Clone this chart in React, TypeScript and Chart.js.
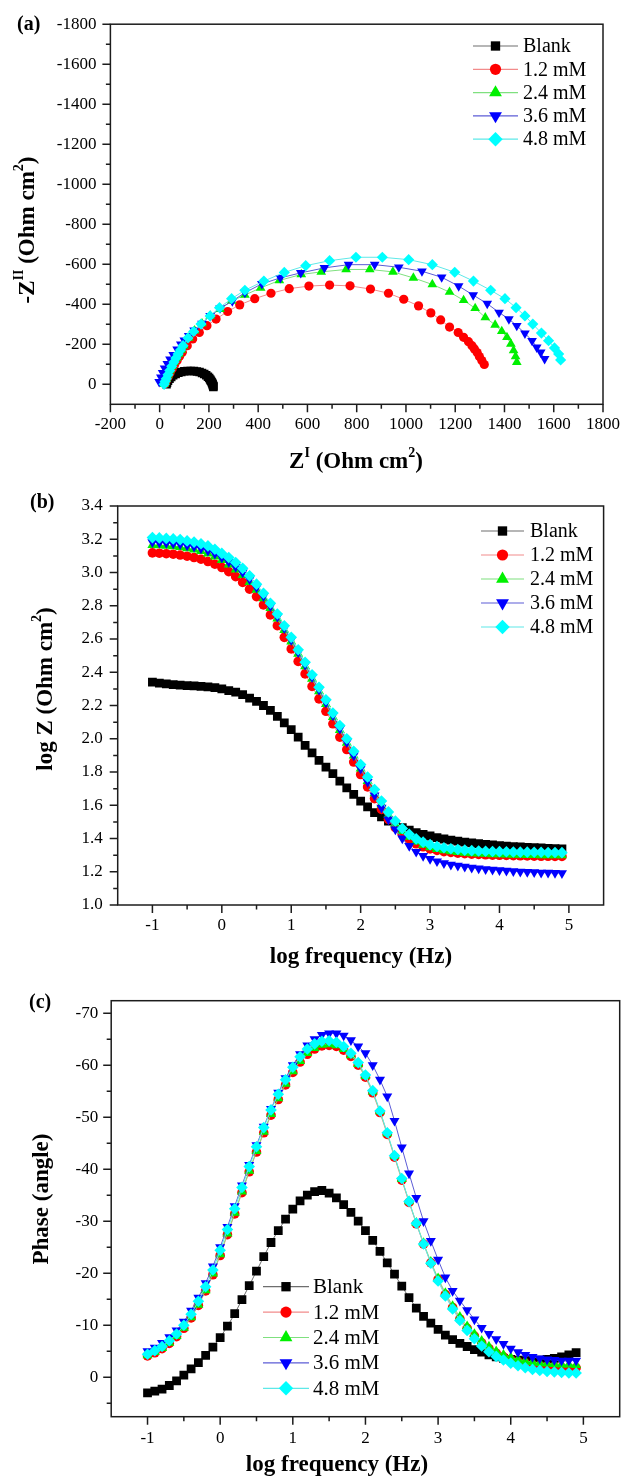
import React, { useEffect, useRef } from 'react';
import { Chart, registerables } from 'chart.js';

Chart.register(...registerables);

// ---------------- DATA ----------------
const SERIES_NAMES = ['Blank', '1.2 mM', '2.4 mM', '3.6 mM', '4.8 mM'];

// (a) Nyquist: Z' and -Z'' (Ohm cm2), values as plotted on the reversed axis
const blankZre = [28, 30, 34, 40, 47, 55, 65, 76, 88, 100, 113, 126, 139, 151, 162, 172, 181, 189, 196, 201, 205, 208, 211, 213, 215, 216, 217, 218, 218];
const blankZim = [0, -8, -18, -28, -37, -45, -52, -58, -62, -65, -66, -67, -66, -64, -61, -56, -51, -45, -38, -31, -24, -18, -12, -7, -2, 3, 7, 10, 13];

const mM12Zre = [22, 27, 34, 42, 51, 61, 71, 81, 92, 112, 134, 161, 192, 229, 276, 325, 386, 452, 526, 606, 690, 773, 856, 929, 991, 1051, 1101, 1141, 1177, 1212, 1234, 1254, 1268, 1278, 1289, 1298, 1308, 1318];
const mM12Zim = [-3, -18, -36, -57, -78, -99, -119, -140, -160, -193, -227, -259, -293, -326, -364, -397, -428, -455, -478, -491, -496, -492, -476, -455, -425, -392, -357, -322, -286, -259, -235, -213, -193, -177, -159, -139, -119, -99];

const mM24Zre = [18, 22, 27, 34, 42, 50, 58, 68, 78, 88, 98, 118, 142, 172, 205, 245, 292, 346, 410, 486, 575, 656, 757, 853, 947, 1030, 1107, 1177, 1234, 1281, 1322, 1362, 1389, 1410, 1426, 1437, 1445, 1450];
const mM24Zim = [0, -14, -28, -48, -69, -90, -111, -131, -152, -172, -193, -232, -268, -304, -342, -375, -416, -446, -482, -519, -549, -562, -574, -574, -562, -532, -499, -461, -420, -380, -334, -297, -265, -235, -202, -169, -139, -111];

const mM36Zre = [-2, 5, 12, 20, 31, 42, 55, 71, 86, 100, 118, 140, 172, 205, 245, 295, 346, 415, 490, 573, 669, 767, 873, 971, 1065, 1145, 1214, 1273, 1330, 1378, 1418, 1450, 1483, 1512, 1531, 1547, 1563];
const mM36Zim = [-12, -35, -58, -80, -103, -125, -147, -175, -200, -220, -243, -270, -304, -342, -380, -416, -458, -502, -532, -557, -582, -598, -598, -585, -565, -535, -491, -446, -403, -359, -326, -293, -255, -218, -185, -160, -127];

const mM48Zre = [18, 22, 27, 34, 41, 49, 58, 66, 75, 85, 95, 115, 138, 168, 205, 243, 292, 346, 423, 506, 593, 690, 797, 904, 1011, 1107, 1198, 1274, 1344, 1402, 1447, 1483, 1515, 1550, 1579, 1603, 1620, 1628];
const mM48Zim = [0, -14, -28, -48, -69, -90, -111, -131, -152, -172, -193, -232, -264, -301, -342, -383, -428, -470, -516, -559, -593, -618, -635, -635, -623, -598, -560, -516, -470, -428, -383, -342, -301, -256, -218, -182, -152, -122];

// (b), (c) Bode: log frequency (Hz)
const freqLog = [-1.0, -0.9, -0.8, -0.7, -0.6, -0.5, -0.4, -0.3, -0.2, -0.1, 0.0, 0.1, 0.2, 0.3, 0.4, 0.5, 0.6, 0.7, 0.8, 0.9, 1.0, 1.1, 1.2, 1.3, 1.4, 1.5, 1.6, 1.7, 1.8, 1.9, 2.0, 2.1, 2.2, 2.3, 2.4, 2.5, 2.6, 2.7, 2.8, 2.9, 3.0, 3.1, 3.2, 3.3, 3.4, 3.5, 3.6, 3.7, 3.8, 3.9, 4.0, 4.1, 4.2, 4.3, 4.4, 4.5, 4.6, 4.7, 4.8, 4.9];

const blankLogZ = [2.340, 2.335, 2.330, 2.325, 2.322, 2.320, 2.318, 2.315, 2.312, 2.307, 2.300, 2.290, 2.280, 2.265, 2.245, 2.225, 2.200, 2.170, 2.135, 2.095, 2.055, 2.010, 1.960, 1.915, 1.870, 1.830, 1.790, 1.745, 1.705, 1.665, 1.625, 1.590, 1.555, 1.530, 1.505, 1.485, 1.465, 1.450, 1.435, 1.425, 1.415, 1.405, 1.397, 1.390, 1.384, 1.378, 1.373, 1.369, 1.365, 1.361, 1.357, 1.354, 1.351, 1.349, 1.347, 1.345, 1.343, 1.341, 1.339, 1.337];
const mM12LogZ = [3.118, 3.116, 3.113, 3.110, 3.105, 3.098, 3.090, 3.080, 3.066, 3.050, 3.030, 3.005, 2.975, 2.940, 2.900, 2.855, 2.805, 2.745, 2.680, 2.610, 2.540, 2.465, 2.390, 2.315, 2.240, 2.165, 2.090, 2.010, 1.935, 1.860, 1.785, 1.710, 1.640, 1.575, 1.515, 1.465, 1.425, 1.392, 1.368, 1.350, 1.337, 1.328, 1.321, 1.316, 1.312, 1.309, 1.306, 1.304, 1.302, 1.300, 1.299, 1.298, 1.297, 1.296, 1.295, 1.294, 1.293, 1.293, 1.292, 1.292];
const mM24LogZ = [3.165, 3.163, 3.160, 3.157, 3.153, 3.146, 3.138, 3.128, 3.114, 3.096, 3.074, 3.048, 3.018, 2.984, 2.943, 2.896, 2.844, 2.786, 2.722, 2.654, 2.584, 2.510, 2.435, 2.360, 2.285, 2.208, 2.130, 2.052, 1.975, 1.898, 1.820, 1.745, 1.672, 1.605, 1.542, 1.490, 1.445, 1.410, 1.382, 1.362, 1.347, 1.336, 1.328, 1.322, 1.318, 1.314, 1.311, 1.309, 1.307, 1.305, 1.304, 1.303, 1.302, 1.301, 1.300, 1.300, 1.299, 1.299, 1.298, 1.298];
const mM36LogZ = [3.182, 3.180, 3.177, 3.174, 3.170, 3.163, 3.155, 3.145, 3.131, 3.113, 3.090, 3.064, 3.034, 3.000, 2.958, 2.910, 2.857, 2.798, 2.734, 2.665, 2.595, 2.520, 2.445, 2.370, 2.295, 2.218, 2.140, 2.060, 1.980, 1.900, 1.820, 1.740, 1.660, 1.585, 1.515, 1.455, 1.400, 1.355, 1.320, 1.295, 1.277, 1.263, 1.252, 1.243, 1.236, 1.230, 1.225, 1.220, 1.216, 1.212, 1.209, 1.206, 1.203, 1.201, 1.199, 1.197, 1.195, 1.194, 1.193, 1.192];
const mM48LogZ = [3.210, 3.208, 3.205, 3.202, 3.198, 3.190, 3.183, 3.173, 3.160, 3.140, 3.115, 3.090, 3.060, 3.025, 2.980, 2.930, 2.875, 2.815, 2.750, 2.680, 2.610, 2.535, 2.460, 2.385, 2.310, 2.235, 2.155, 2.080, 2.000, 1.925, 1.845, 1.770, 1.695, 1.625, 1.560, 1.505, 1.460, 1.425, 1.398, 1.378, 1.363, 1.352, 1.344, 1.338, 1.334, 1.330, 1.327, 1.325, 1.323, 1.322, 1.321, 1.320, 1.319, 1.318, 1.318, 1.317, 1.317, 1.316, 1.316, 1.315];

const blankPhase = [3.0, 2.7, 2.3, 1.6, 0.7, -0.4, -1.6, -2.8, -4.2, -5.8, -7.6, -9.8, -12.2, -14.9, -17.6, -20.4, -23.2, -25.9, -28.2, -30.4, -32.3, -33.9, -35.0, -35.7, -35.9, -35.4, -34.5, -33.2, -31.7, -30.0, -28.2, -26.3, -24.2, -22.0, -19.8, -17.5, -15.3, -13.3, -11.7, -10.4, -9.2, -8.1, -7.2, -6.5, -5.9, -5.3, -4.8, -4.3, -3.9, -3.6, -3.4, -3.3, -3.2, -3.2, -3.3, -3.4, -3.6, -3.9, -4.3, -4.7];
const mM12Phase = [-4.1, -4.7, -5.5, -6.5, -7.8, -9.4, -11.4, -13.8, -16.6, -19.7, -23.4, -27.4, -31.4, -35.5, -39.5, -43.3, -47.0, -50.4, -53.4, -56.2, -58.6, -60.6, -62.1, -63.1, -63.7, -63.8, -63.6, -62.9, -61.7, -60.0, -57.7, -54.7, -50.9, -46.7, -42.3, -37.9, -33.6, -29.5, -25.6, -22.0, -18.8, -15.9, -13.4, -11.2, -9.4, -7.9, -6.6, -5.5, -4.6, -3.9, -3.4, -3.0, -2.7, -2.4, -2.2, -2.1, -2.0, -1.9, -1.8, -1.8];
const mM24Phase = [-4.2, -4.8, -5.6, -6.6, -7.9, -9.5, -11.5, -13.9, -16.7, -19.9, -23.6, -27.6, -31.6, -35.7, -39.7, -43.5, -47.2, -50.6, -53.6, -56.4, -58.8, -60.8, -62.3, -63.3, -63.9, -64.0, -63.8, -63.1, -61.9, -60.2, -57.9, -54.9, -51.1, -46.9, -42.5, -38.1, -33.8, -29.7, -25.8, -22.2, -19.0, -16.2, -13.7, -11.6, -9.8, -8.3, -7.0, -5.9, -5.0, -4.3, -3.8, -3.4, -3.1, -2.9, -2.7, -2.6, -2.5, -2.4, -2.4, -2.3];
const mM36Phase = [-5.0, -5.7, -6.6, -7.7, -9.0, -10.7, -12.8, -15.3, -18.1, -21.3, -25.0, -28.9, -32.9, -36.9, -40.8, -44.6, -48.2, -51.6, -54.7, -57.5, -60.0, -62.1, -63.8, -65.0, -65.8, -66.1, -66.1, -65.7, -64.8, -63.6, -62.3, -60.0, -57.2, -54.0, -49.3, -44.2, -39.2, -34.5, -30.0, -26.2, -22.6, -19.2, -16.6, -14.7, -12.9, -11.1, -9.5, -8.3, -7.3, -6.4, -5.5, -4.8, -4.3, -3.9, -3.6, -3.4, -3.3, -3.2, -3.2, -3.2];
const mM48Phase = [-4.4, -5.1, -5.9, -7.0, -8.3, -10.0, -12.1, -14.6, -17.4, -20.6, -24.4, -28.4, -32.4, -36.5, -40.5, -44.3, -48.0, -51.4, -54.4, -57.2, -59.6, -61.6, -63.1, -64.1, -64.6, -64.7, -64.4, -63.6, -62.3, -60.5, -58.1, -55.1, -51.2, -47.0, -42.6, -38.2, -33.8, -29.6, -25.6, -21.9, -18.5, -15.6, -13.1, -10.9, -9.0, -7.4, -6.0, -4.9, -4.0, -3.3, -2.7, -2.2, -1.8, -1.5, -1.3, -1.1, -1.0, -0.9, -0.8, -0.8];

// tick values
const nyqXTicks = [-200, 0, 200, 400, 600, 800, 1000, 1200, 1400, 1600, 1800];
const nyqXMinor = [-100, 100, 300, 500, 700, 900, 1100, 1300, 1500, 1700];
const nyqYTicks = [-1800, -1600, -1400, -1200, -1000, -800, -600, -400, -200, 0];
const nyqYMinor = [-1700, -1500, -1300, -1100, -900, -700, -500, -300, -100];
const freqTicks = [-1, 0, 1, 2, 3, 4, 5];
const freqMinor = [-0.5, 0.5, 1.5, 2.5, 3.5, 4.5];
const logZTicks = [1.0, 1.2, 1.4, 1.6, 1.8, 2.0, 2.2, 2.4, 2.6, 2.8, 3.0, 3.2, 3.4];
const logZMinor = [1.1, 1.3, 1.5, 1.7, 1.9, 2.1, 2.3, 2.5, 2.7, 2.9, 3.1, 3.3];
const phaseTicks = [-70, -60, -50, -40, -30, -20, -10, 0];
const phaseMinor = [-65, -55, -45, -35, -25, -15, -5, 5];

// ---------------- STYLE ----------------
const W = 630;
const H = 1477;
const SERIF = '"Liberation Serif", "Times New Roman", Times, serif';
const MARKER_FILL = ['#000000', '#ff0000', '#00f000', '#0000ff', '#00ffff'];
const LINE_COLOR = ['#6e6e6e', '#f28b8b', '#7fe07f', '#5c5cd6', '#5ee8e8'];
const POINT_STYLE = ['rect', 'circle', 'triangle', 'triangle', 'rectRot'];
const POINT_ROT = [0, 0, 0, 180, 0];
const LEGEND_R = [6.6, 5.6, 7.4, 7.4, 7.2];
const AXIS_COLOR = '#1c1c1c';

type Part = { t: string; sup?: boolean };

function drawRich(ctx: CanvasRenderingContext2D, parts: Part[], cx: number, cy: number, size: number, rotate: boolean) {
  const main = `bold ${size}px ${SERIF}`;
  const sup = `bold ${Math.round(size * 0.6)}px ${SERIF}`;
  let total = 0;
  const widths = parts.map((p) => {
    ctx.font = p.sup ? sup : main;
    const w = ctx.measureText(p.t).width;
    total += w;
    return w;
  });
  ctx.save();
  ctx.translate(cx, cy);
  if (rotate) ctx.rotate(-Math.PI / 2);
  ctx.fillStyle = '#000';
  ctx.textBaseline = 'middle';
  ctx.textAlign = 'left';
  let x = -total / 2;
  parts.forEach((p, i) => {
    ctx.font = p.sup ? sup : main;
    ctx.fillText(p.t, x, p.sup ? -size * 0.38 : 0);
    x += widths[i];
  });
  ctx.restore();
}

function drawMarker(ctx: CanvasRenderingContext2D, style: string, rotation: number, x: number, y: number, r: number) {
  ctx.beginPath();
  if (style === 'circle') {
    ctx.arc(x, y, r, 0, Math.PI * 2);
  } else if (style === 'rect') {
    const s = r * Math.SQRT1_2;
    ctx.rect(x - s, y - s, 2 * s, 2 * s);
  } else if (style === 'rectRot') {
    ctx.moveTo(x - r, y);
    ctx.lineTo(x, y - r);
    ctx.lineTo(x + r, y);
    ctx.lineTo(x, y + r);
    ctx.closePath();
  } else {
    let rad = (rotation * Math.PI) / 180;
    for (let k = 0; k < 3; k++) {
      const px = x + Math.sin(rad) * r;
      const py = y - Math.cos(rad) * r;
      if (k === 0) ctx.moveTo(px, py);
      else ctx.lineTo(px, py);
      rad += (2 * Math.PI) / 3;
    }
    ctx.closePath();
  }
  ctx.fill();
}

type PanelCfg = {
  key: string;
  area: { left: number; right: number; top: number; bottom: number };
  xRange: [number, number];
  yRange: [number, number];
  yReverse: boolean;
  xTicks: number[];
  xMinor: number[];
  yTicks: number[];
  yMinor: number[];
  yFmt: (v: number) => string;
  xPad: number;
  yPad: number;
  series: { x: number[]; y: number[] }[];
  radius: number[];
  letter: { text: string; x: number; y: number };
  xTitle: { parts: Part[]; x: number; y: number };
  yTitle: { parts: Part[]; x: number; y: number };
  legend: { lineX0: number; lineX1: number; markerX: number; textX: number; y0: number; dy: number; size: number };
};

const X_AXIS_H = 40;
const MAJOR_LEN = 8;
const MINOR_LEN = 4.5;

function buildConfig(p: PanelCfg): any {
  const datasets = p.series.map((s, i) => ({
    label: SERIES_NAMES[i],
    data: s.x.map((xv, j) => ({ x: xv, y: s.y[j] })),
    showLine: true,
    borderColor: LINE_COLOR[i],
    borderWidth: 1,
    backgroundColor: MARKER_FILL[i],
    pointBackgroundColor: MARKER_FILL[i],
    pointBorderColor: MARKER_FILL[i],
    pointBorderWidth: 0,
    pointStyle: POINT_STYLE[i],
    pointRotation: POINT_ROT[i],
    pointRadius: p.radius[i],
    pointHoverRadius: p.radius[i],
    tension: 0,
    order: 5 - i,
  }));

  const overlay = {
    id: 'overlay_' + p.key,
    afterDraw(chart: any) {
      const ctx: CanvasRenderingContext2D = chart.ctx;
      const { left, right, top, bottom } = chart.chartArea;
      const xs = chart.scales.x;
      const ys = chart.scales.y;
      ctx.save();
      ctx.strokeStyle = AXIS_COLOR;
      ctx.lineWidth = 1.5;
      ctx.strokeRect(left, top, right - left, bottom - top);
      ctx.beginPath();
      p.xTicks.forEach((v) => {
        const px = xs.getPixelForValue(v);
        ctx.moveTo(px, bottom);
        ctx.lineTo(px, bottom + MAJOR_LEN);
      });
      p.xMinor.forEach((v) => {
        const px = xs.getPixelForValue(v);
        ctx.moveTo(px, bottom);
        ctx.lineTo(px, bottom + MINOR_LEN);
      });
      p.yTicks.forEach((v) => {
        const py = ys.getPixelForValue(v);
        ctx.moveTo(left, py);
        ctx.lineTo(left - MAJOR_LEN, py);
      });
      p.yMinor.forEach((v) => {
        const py = ys.getPixelForValue(v);
        if (py < top - 0.5 || py > bottom + 0.5) return;
        ctx.moveTo(left, py);
        ctx.lineTo(left - MINOR_LEN, py);
      });
      ctx.stroke();

      // panel letter
      ctx.fillStyle = '#000';
      ctx.font = `bold 20px ${SERIF}`;
      ctx.textBaseline = 'middle';
      ctx.textAlign = 'left';
      ctx.fillText(p.letter.text, p.letter.x, p.letter.y);

      // axis titles
      drawRich(ctx, p.xTitle.parts, p.xTitle.x, p.xTitle.y, 23, false);
      drawRich(ctx, p.yTitle.parts, p.yTitle.x, p.yTitle.y, 23, true);

      // legend
      const lg = p.legend;
      chart.data.datasets.forEach((ds: any, i: number) => {
        const y = lg.y0 + lg.dy * i;
        ctx.strokeStyle = ds.borderColor;
        ctx.lineWidth = 1.2;
        ctx.beginPath();
        ctx.moveTo(lg.lineX0, y);
        ctx.lineTo(lg.lineX1, y);
        ctx.stroke();
        ctx.fillStyle = ds.pointBackgroundColor;
        drawMarker(ctx, ds.pointStyle, ds.pointRotation, lg.markerX, y, LEGEND_R[i]);
        ctx.fillStyle = '#000';
        ctx.font = `${lg.size}px ${SERIF}`;
        ctx.textBaseline = 'middle';
        ctx.textAlign = 'left';
        ctx.fillText(ds.label, lg.textX, y + 1);
      });
      ctx.restore();
    },
  };

  const tickFont = { family: SERIF, size: 17 };

  return {
    type: 'scatter',
    data: { datasets },
    options: {
      responsive: false,
      animation: false,
      events: [],
      layout: {
        padding: {
          left: 0,
          right: W - p.area.right,
          top: p.area.top,
          bottom: H - p.area.bottom - X_AXIS_H,
        },
      },
      plugins: { legend: { display: false }, tooltip: { enabled: false }, title: { display: false } },
      scales: {
        x: {
          type: 'linear',
          min: p.xRange[0],
          max: p.xRange[1],
          afterBuildTicks: (s: any) => {
            s.ticks = p.xTicks.map((v) => ({ value: v }));
          },
          afterFit: (s: any) => {
            s.height = X_AXIS_H;
          },
          grid: { display: false, drawTicks: false },
          border: { display: false },
          ticks: {
            font: tickFont,
            color: '#000',
            padding: p.xPad,
            autoSkip: false,
            maxRotation: 0,
            callback: (v: any) => String(v),
          },
        },
        y: {
          type: 'linear',
          min: p.yRange[0],
          max: p.yRange[1],
          reverse: p.yReverse,
          afterBuildTicks: (s: any) => {
            s.ticks = p.yTicks.map((v) => ({ value: v }));
          },
          afterFit: (s: any) => {
            s.width = p.area.left;
          },
          grid: { display: false, drawTicks: false },
          border: { display: false },
          ticks: {
            font: tickFont,
            color: '#000',
            padding: p.yPad,
            autoSkip: false,
            callback: (v: any) => p.yFmt(Number(v)),
          },
        },
      },
    },
    plugins: [overlay],
  };
}

const panelA: PanelCfg = {
  key: 'a',
  area: { left: 110.4, right: 609.2, top: 21, bottom: 404.3 },
  xRange: [-200, 1800],
  yRange: [-1800, 100],
  yReverse: true,
  xTicks: nyqXTicks,
  xMinor: nyqXMinor,
  yTicks: nyqYTicks,
  yMinor: nyqYMinor,
  yFmt: (v) => String(v),
  xPad: 10,
  yPad: 14,
  series: [
    { x: blankZre, y: blankZim },
    { x: mM12Zre, y: mM12Zim },
    { x: mM24Zre, y: mM24Zim },
    { x: mM36Zre, y: mM36Zim },
    { x: mM48Zre, y: mM48Zim },
  ],
  radius: [6.0, 4.6, 5.6, 5.6, 5.6],
  letter: { text: '(a)', x: 17, y: 25 },
  xTitle: { parts: [{ t: 'Z' }, { t: 'I', sup: true }, { t: ' (Ohm cm' }, { t: '2', sup: true }, { t: ')' }], x: 356, y: 462 },
  yTitle: { parts: [{ t: '-Z' }, { t: 'II', sup: true }, { t: ' (Ohm cm' }, { t: '2', sup: true }, { t: ')' }], x: 28, y: 230 },
  legend: { lineX0: 473, lineX1: 518, markerX: 495.5, textX: 523, y0: 46, dy: 23.3, size: 20 },
};

const panelB: PanelCfg = {
  key: 'b',
  area: { left: 117.7, right: 603.6, top: 506, bottom: 905 },
  xRange: [-1.5, 5.5],
  yRange: [1.0, 3.4],
  yReverse: false,
  xTicks: freqTicks,
  xMinor: freqMinor,
  yTicks: logZTicks,
  yMinor: logZMinor,
  yFmt: (v) => v.toFixed(1),
  xPad: 10,
  yPad: 15,
  series: [
    { x: freqLog, y: blankLogZ },
    { x: freqLog, y: mM12LogZ },
    { x: freqLog, y: mM24LogZ },
    { x: freqLog, y: mM36LogZ },
    { x: freqLog, y: mM48LogZ },
  ],
  radius: [6.2, 4.8, 5.8, 5.8, 5.8],
  letter: { text: '(b)', x: 30, y: 503 },
  xTitle: { parts: [{ t: 'log frequency (Hz)' }], x: 361, y: 957 },
  yTitle: { parts: [{ t: 'log Z (Ohm cm' }, { t: '2', sup: true }, { t: ')' }], x: 46, y: 689 },
  legend: { lineX0: 481, lineX1: 524, markerX: 502.5, textX: 530, y0: 531, dy: 24, size: 20 },
};

const panelC: PanelCfg = {
  key: 'c',
  area: { left: 111.2, right: 619.7, top: 1000.7, bottom: 1416.7 },
  xRange: [-1.5, 5.5],
  yRange: [-72.4, 7.6],
  yReverse: true,
  xTicks: freqTicks,
  xMinor: freqMinor,
  yTicks: phaseTicks,
  yMinor: phaseMinor,
  yFmt: (v) => String(v),
  xPad: 12,
  yPad: 13,
  series: [
    { x: freqLog, y: blankPhase },
    { x: freqLog, y: mM12Phase },
    { x: freqLog, y: mM24Phase },
    { x: freqLog, y: mM36Phase },
    { x: freqLog, y: mM48Phase },
  ],
  radius: [6.2, 4.8, 5.8, 5.8, 5.8],
  letter: { text: '(c)', x: 29, y: 1003 },
  xTitle: { parts: [{ t: 'log frequency (Hz)' }], x: 337, y: 1465 },
  yTitle: { parts: [{ t: 'Phase (angle)' }], x: 42, y: 1199 },
  legend: { lineX0: 263, lineX1: 309, markerX: 286, textX: 313, y0: 1286.7, dy: 25.4, size: 21 },
};

function PanelCanvas({ cfg }: { cfg: PanelCfg }) {
  const ref = useRef<HTMLCanvasElement | null>(null);
  useEffect(() => {
    if (!ref.current) return;
    const chart = new Chart(ref.current, buildConfig(cfg));
    return () => chart.destroy();
  }, [cfg]);
  return (
    <canvas
      ref={ref}
      width={W}
      height={H}
      style={{ position: 'absolute', left: 0, top: 0, width: W, height: H }}
    />
  );
}

export default function App() {
  return (
    <div style={{ position: 'absolute', left: 0, top: 0, width: W, height: H, background: '#ffffff', overflow: 'hidden' }}>
      <PanelCanvas cfg={panelA} />
      <PanelCanvas cfg={panelB} />
      <PanelCanvas cfg={panelC} />
    </div>
  );
}
